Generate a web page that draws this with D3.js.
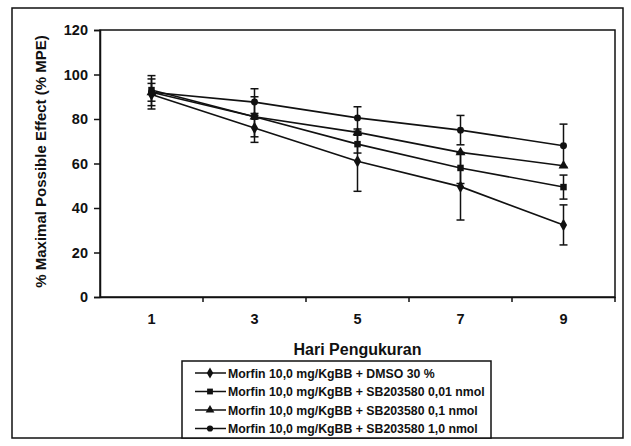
<!DOCTYPE html>
<html>
<head>
<meta charset="utf-8">
<script src="https://cdn.jsdelivr.net/npm/d3@7"></script>
<style>
  body { margin: 0; background: #fff; }
  svg { display: block; font-family: "Liberation Sans", Arial, sans-serif; }
</style>
</head>
<body>
<div id="chart"></div>
<script>
const width = 631;
const height = 446;

// Data
const days = ["1", "3", "5", "7", "9"];
const yTicks = [0, 20, 40, 60, 80, 100, 120];

const dmso = [91, 76, 61, 49.6, 32.4];
const dmsoErr = [5, 6.5, 13.5, 15, 9];
const sb001 = [93, 81, 68.7, 58, 49.4];
const sb001Err = [5, 9, 4, 7, 5.4];
const sb01 = [92, 81, 74, 65, 59];
const sb01Err = [0, 0, 0, 0, 0];
const sb10 = [92, 87.6, 80.5, 75, 68];
const sb10Err = [7.5, 6, 5, 6.6, 9.7];

const labels = [
    "Morfin 10,0 mg/KgBB + DMSO 30 %",
    "Morfin 10,0 mg/KgBB + SB203580 0,01 nmol",
    "Morfin 10,0 mg/KgBB + SB203580 0,1 nmol",
    "Morfin 10,0 mg/KgBB + SB203580 1,0 nmol"
];

const series = [
    { name: labels[0], values: dmso, err: dmsoErr, symbol: d3.symbolDiamond, size: 45 },
    { name: labels[1], values: sb001, err: sb001Err, symbol: d3.symbolSquare, size: 42 },
    { name: labels[2], values: sb01, err: sb01Err, symbol: d3.symbolTriangle, size: 42 },
    { name: labels[3], values: sb10, err: sb10Err, symbol: d3.symbolCircle, size: 38 }
];

const svg = d3.select("#chart")
    .append("svg")
    .attr("width", width)
    .attr("height", height);

// outer chart frame
svg.append("rect")
    .attr("x", 12).attr("y", 8)
    .attr("width", 611).attr("height", 430)
    .attr("fill", "none").attr("stroke", "#111").attr("stroke-width", 1.5);

const plot = { left: 100, top: 30, right: 615, bottom: 297 };

const x = d3.scaleBand()
    .domain(days)
    .range([plot.left, plot.right]);

const y = d3.scaleLinear()
    .domain([0, 120])
    .range([plot.bottom, plot.top]);

// plot area frame
svg.append("rect")
    .attr("x", plot.left).attr("y", plot.top)
    .attr("width", plot.right - plot.left).attr("height", plot.bottom - plot.top)
    .attr("fill", "none").attr("stroke", "#111").attr("stroke-width", 1.5);

// y axis
const yAxis = svg.append("g")
    .attr("transform", `translate(${plot.left},0)`)
    .call(d3.axisLeft(y).tickValues(yTicks).tickSize(6).tickPadding(6));
yAxis.select(".domain").attr("stroke", "#111").attr("stroke-width", 1.5);
yAxis.selectAll(".tick line").attr("stroke", "#111").attr("stroke-width", 1.5);
yAxis.selectAll("text")
    .attr("font-size", 14.5).attr("font-weight", "bold").attr("fill", "#111")
    .attr("font-family", "'Liberation Sans', Arial, sans-serif");

// x axis: ticks at category boundaries, labels centred
const xAxis = svg.append("g")
    .attr("transform", `translate(0,${plot.bottom})`)
    .call(d3.axisBottom(x).tickSize(0).tickPadding(17));
xAxis.select(".domain").attr("stroke", "#111").attr("stroke-width", 1.5);
xAxis.selectAll("text")
    .attr("font-size", 14.5).attr("font-weight", "bold").attr("fill", "#111")
    .attr("font-family", "'Liberation Sans', Arial, sans-serif");

xAxis.selectAll(".bound")
    .data(days)
    .enter()
    .append("line")
    .attr("class", "bound")
    .attr("x1", d => x(d) + x.bandwidth())
    .attr("x2", d => x(d) + x.bandwidth())
    .attr("y1", 0).attr("y2", 5)
    .attr("stroke", "#111").attr("stroke-width", 1.5);

// axis titles
svg.append("text")
    .attr("x", (plot.left + plot.right) / 2 + 0)
    .attr("y", 355)
    .attr("text-anchor", "middle")
    .attr("font-size", 16).attr("font-weight", "bold").attr("fill", "#111")
    .text("Hari Pengukuran");

svg.append("text")
    .attr("transform", `translate(46,${(plot.top + plot.bottom) / 2 - 2}) rotate(-90)`)
    .attr("text-anchor", "middle")
    .attr("font-size", 15).attr("font-weight", "bold").attr("fill", "#111")
    .text("% Maximal Possible Effect (% MPE)");

const cx = d => x(d) + x.bandwidth() / 2;

const line = d3.line()
    .x((v, i) => cx(days[i]))
    .y(v => y(v));

series.forEach(s => {
    const g = svg.append("g");

    // error bars
    g.selectAll(".err")
        .data(s.values)
        .enter()
        .append("g")
        .filter((v, i) => s.err[i] > 0)
        .each(function (v, i) {
            const e = d3.select(this);
            const k = s.values.indexOf(v);
            const px = cx(days[k]);
            const lo = y(v - s.err[k]);
            const hi = y(v + s.err[k]);
            e.append("line")
                .attr("x1", px).attr("x2", px).attr("y1", lo).attr("y2", hi)
                .attr("stroke", "#111").attr("stroke-width", 1.5);
            [lo, hi].forEach(yy => e.append("line")
                .attr("x1", px - 4).attr("x2", px + 4).attr("y1", yy).attr("y2", yy)
                .attr("stroke", "#111").attr("stroke-width", 1.5));
        });

    g.append("path")
        .datum(s.values)
        .attr("d", line)
        .attr("fill", "none")
        .attr("stroke", "#111")
        .attr("stroke-width", 1.6);

    g.selectAll(".mark")
        .data(s.values)
        .enter()
        .append("path")
        .attr("transform", (v, i) => `translate(${cx(days[i])},${y(v)})`)
        .attr("d", d3.symbol().type(s.symbol).size(s.size))
        .attr("fill", "#111");
});

// legend
const legend = svg.append("g");
legend.append("rect")
    .attr("x", 182).attr("y", 361)
    .attr("width", 309).attr("height", 77)
    .attr("fill", "#fff").attr("stroke", "#111").attr("stroke-width", 1.5);

series.forEach((s, i) => {
    const ly = 373 + i * 18.5;
    legend.append("line")
        .attr("x1", 195).attr("x2", 226).attr("y1", ly).attr("y2", ly)
        .attr("stroke", "#111").attr("stroke-width", 1.5);
    legend.append("path")
        .attr("transform", `translate(210,${ly})`)
        .attr("d", d3.symbol().type(s.symbol).size(s.size * 0.8))
        .attr("fill", "#111");
    legend.append("text")
        .attr("x", 228).attr("y", ly + 4.5)
        .attr("font-size", 12.3).attr("font-weight", "bold").attr("fill", "#111")
        .text(s.name);
});
</script>
</body>
</html>
